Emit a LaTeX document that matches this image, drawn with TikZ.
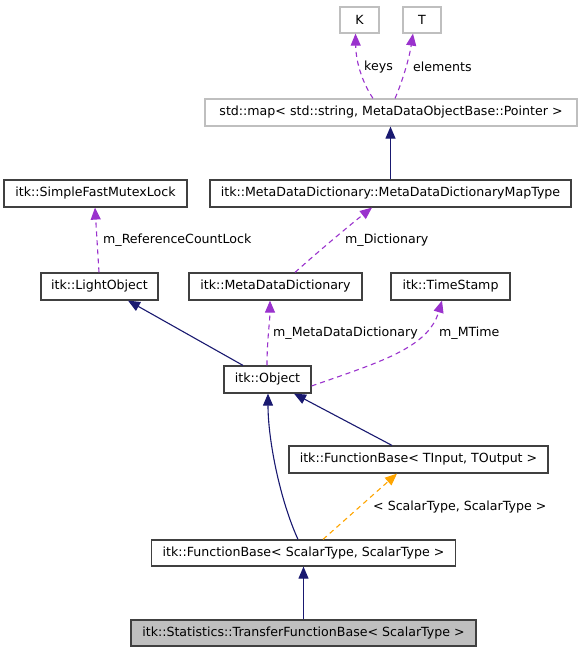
\documentclass[tikz,border=0pt]{standalone}
\usepackage{fontspec}
\setmainfont{DejaVu Sans}
\usetikzlibrary{arrows.meta}
\definecolor{navy}{HTML}{191970}
\definecolor{orchid}{HTML}{9A32CD}
\definecolor{orng}{HTML}{FFA500}
\definecolor{boxline}{HTML}{404040}
\definecolor{greyline}{HTML}{BFBFBF}
\begin{document}
\begin{tikzpicture}[x=1pt,y=-1pt,
  box/.style={draw=boxline, line width=1.2pt, inner sep=0pt, anchor=center, font=\fontsize{12.6}{14}\selectfont, fill=white},
  gbox/.style={box, draw=greyline},
  inh/.style={draw=navy, line width=1.1pt, -{Triangle[length=12pt,width=10pt]}},
  use/.style={draw=orchid, line width=1.1pt, dash pattern=on 5pt off 4pt, -{Triangle[length=12pt,width=10pt]}},
  tmpl/.style={draw=orng, line width=1.1pt, dash pattern=on 5pt off 4pt, -{Triangle[length=12pt,width=10pt]}},
  lbl/.style={font=\fontsize{12.6}{14}\selectfont, inner sep=0pt, anchor=west}]
\useasboundingbox (0,0) rectangle (581,653);
\node[gbox, minimum width=39pt, minimum height=26pt] (K) at (359.5,20) {K};
\node[gbox, minimum width=38pt, minimum height=26pt] (T) at (422,20) {T};
\node[gbox, minimum width=372pt, minimum height=27pt] (map) at (391,112.5) {std::map< std::string, MetaDataObjectBase::Pointer >};
\node[box, minimum width=361pt, minimum height=27pt] (maptype) at (390.5,193.5) {itk::MetaDataDictionary::MetaDataDictionaryMapType};
\node[box, minimum width=183pt, minimum height=27pt] (mutex) at (95.5,193.5) {itk::SimpleFastMutexLock};
\node[box, minimum width=117pt, minimum height=27pt] (light) at (99.5,286.5) {itk::LightObject};
\node[box, minimum width=173pt, minimum height=27pt] (mdd) at (275.5,286.5) {itk::MetaDataDictionary};
\node[box, minimum width=119pt, minimum height=27pt] (ts) at (450.5,286.5) {itk::TimeStamp};
\node[box, minimum width=87pt, minimum height=27pt] (obj) at (267.5,379.5) {itk::Object};
\node[box, minimum width=259pt, minimum height=27pt] (fbio) at (418.5,459.5) {itk::FunctionBase< TInput, TOutput >};
\node[box, minimum width=304pt, minimum height=26pt] (fbss) at (303.5,553) {itk::FunctionBase< ScalarType, ScalarType >};
\node[box, fill={rgb,255:red,191;green,191;blue,191}, minimum width=345pt, minimum height=26pt] (tfb) at (303.5,633) {itk::Statistics::TransferFunctionBase< ScalarType >};

\draw[use] ([xshift=-18pt]map.north) .. controls (364,85) and (356,65) .. ([xshift=-4pt]K.south);
\node[lbl] (lkeys) at (364,67) {keys};
\draw[use] ([xshift=4pt]map.north) .. controls (401,85) and (409,60) .. ([xshift=-9pt]T.south);
\node[lbl] (lelem) at (413,67) {elements};
\draw[inh] (maptype.north) -- (maptype.north |- map.south);
\draw[use] ([xshift=19.5pt]mdd.north) .. controls (320,250) and (350,225) .. ([xshift=-18.5pt]maptype.south);
\node[lbl] (ldict) at (345,240) {m\_Dictionary};
\draw[use] ([xshift=-0.5pt]light.north) -- ([xshift=-0.5pt]mutex.south);
\node[lbl] (lref) at (103,240) {m\_ReferenceCountLock};
\draw[inh] ([xshift=-24.5pt]obj.north) -- ([xshift=28.5pt]light.south);
\draw[use] ([xshift=-0.5pt]obj.north) .. controls (267,340) and (270,320) .. ([xshift=-5.5pt]mdd.south);
\node[lbl] (lmdd) at (273,333) {m\_MetaDataDictionary};
\draw[use] ([yshift=-6.5pt]obj.east) .. controls (380,362) and (428,348) .. ([xshift=-8.5pt]ts.south);
\node[lbl] (lmt) at (439,333) {m\_MTime};
\draw[inh] ([xshift=-5.5pt]fbss.north) .. controls (280,500) and (268,440) .. ([xshift=0.5pt]obj.south);
\draw[inh] ([xshift=-26.5pt]fbio.north) -- ([xshift=26.5pt]obj.south);
\draw[tmpl] ([xshift=19.5pt]fbss.north) -- ([xshift=-21.5pt]fbio.south);
\node[lbl] (ltmpl) at (373,507) {< ScalarType, ScalarType >};
\draw[inh] (tfb.north) -- (fbss.south);
\end{tikzpicture}
\end{document}
